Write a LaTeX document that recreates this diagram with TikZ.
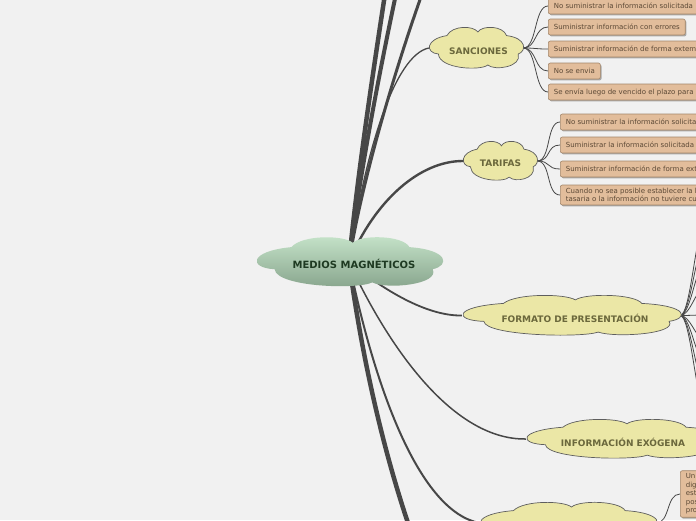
\documentclass[tikz,border=0pt]{standalone}
\usepackage{fontspec}
\setmainfont{DejaVu Sans}
\usetikzlibrary{shadows}
\definecolor{bgc}{HTML}{F1F1F1}
\definecolor{branch}{HTML}{474747}
\definecolor{cloudfill}{HTML}{EBE7A6}
\definecolor{cloudline}{HTML}{5E5E5E}
\definecolor{cloudtext}{HTML}{6B683C}
\definecolor{ctop}{HTML}{C6E4CA}
\definecolor{cbot}{HTML}{86A38B}
\definecolor{ctext}{HTML}{1E3A22}
\definecolor{leaffill}{HTML}{E2BD9B}
\definecolor{leafline}{HTML}{A3866A}
\definecolor{leaftext}{HTML}{5C4936}
\pgfdeclarelayer{background}
\pgfdeclarelayer{clouds}
\pgfsetlayers{background,clouds,main}
% cloud outline round a named node: #1 node, #2 half width, #3 half height, #4 path style
\newcommand\puffcloud[4]{%
  \begin{pgfonlayer}{clouds}
  \begin{scope}[shift={(#1.center)},x=#2pt,y=-#3pt]
  \path[#4] (-0.80,0.30) .. controls (-1.08,0.25) and (-1.08,-0.45) .. (-0.62,-0.62)
     .. controls (-0.50,-1.15) and (-0.05,-1.12) .. (0.04,-0.80)
     .. controls (0.13,-1.15) and (0.58,-1.12) .. (0.65,-0.62)
     .. controls (1.08,-0.50) and (1.08,0.15) .. (0.90,0.30)
     .. controls (0.98,0.95) and (0.40,1.15) .. (0.25,0.85)
     .. controls (0.10,1.15) and (-0.78,1.05) .. (-0.80,0.30) -- cycle;
  \end{scope}
  \end{pgfonlayer}}
% text offset inside a node: #1 right shift, #2 down shift, #3 text
\newcommand\offtext[3]{\hspace*{#1}\raisebox{-#2}[\height][\depth]{#3}}
\begin{document}
\begin{tikzpicture}[x=1pt,y=-1pt,
  topic/.style={rectangle, inner sep=0pt, font=\fontsize{9}{11}\selectfont\bfseries, text=cloudtext},
  yellowcloud/.style={draw=cloudline, line width=0.7pt, fill=cloudfill},
  leaf/.style={draw=leafline, line width=0.6pt, fill=leaffill, rounded corners=2pt,
    text=leaftext, font=\fontsize{7}{8.5}\selectfont, inner xsep=5.5pt, inner ysep=0pt,
    minimum height=16pt, anchor=west, align=left,
    drop shadow={shadow xshift=1.2pt, shadow yshift=-1.4pt, opacity=0.3, fill=black}},
  twig/.style={draw=branch, line width=0.8pt},
  limb/.style={draw=branch}
]
\useasboundingbox (0,0) rectangle (696,520);
\begin{pgfonlayer}{background}
\fill[bgc] (0,0) rectangle (696,520);
\end{pgfonlayer}

\coordinate (hub) at (349,262);

% central node
\node[rectangle, inner sep=0pt, minimum width=186pt, minimum height=48pt,
  font=\fontsize{10}{12}\selectfont\bfseries, text=ctext] (mm) at (349,262)
  {\offtext{10pt}{1.5pt}{MEDIOS MAGNÉTICOS}};
\puffcloud{mm}{93}{24}{top color=ctop, bottom color=cbot, draw=none}

% main topic clouds
\node[topic, minimum width=94pt, minimum height=40pt] (sanc) at (476,48) {\offtext{5pt}{3.5pt}{SANCIONES}};
\puffcloud{sanc}{47}{20}{yellowcloud}
\node[topic, minimum width=74pt, minimum height=38pt] (tar) at (500,161) {\offtext{1pt}{2pt}{TARIFAS}};
\puffcloud{tar}{37}{19}{yellowcloud}
\node[topic, minimum width=218pt, minimum height=39pt] (form) at (571,315.5) {\offtext{8pt}{2.5pt}{FORMATO DE PRESENTACIÓN}};
\puffcloud{form}{109}{19.5}{yellowcloud}
\node[topic, minimum width=194pt, minimum height=38pt] (exo) at (623,439) {\offtext{0pt}{3pt}{INFORMACIÓN EXÓGENA}};
\puffcloud{exo}{97}{19}{yellowcloud}
\node[topic, minimum width=176pt, minimum height=40pt] (bot) at (568,523) {};
\puffcloud{bot}{88}{20}{yellowcloud}

% SANCIONES leaves
\node[leaf] (s1) at (548,6) {No suministrar la información solicitada\hspace{30pt}};
\node[leaf] (s2) at (548,27) {Suministrar información con errores};
\node[leaf] (s3) at (548,49) {Suministrar información de forma extemporánea};
\node[leaf] (s4) at (548,71) {No se envia};
\node[leaf] (s5) at (548,92) {Se envía luego de vencido el plazo para\hspace{30pt}};

% TARIFAS leaves
\node[leaf] (t1) at (560,122) {No suministrar la información solicitada};
\node[leaf] (t2) at (560,145) {Suministrar la información solicitada\hspace{30pt}};
\node[leaf] (t3) at (560,169) {Suministrar información de forma extemporánea};
\node[leaf, inner ysep=3pt] (t4) at (560,195) {Cuando no sea posible establecer la b\hspace{30pt}\\tasaria o la información no tuviere cu};

% bottom-right leaf
\node[leaf, inner ysep=3pt, text width=40pt] (u1) at (680,494) {Un\\dig\\est\\pos\\pro};

% fan endpoints to the right of FORMATO
\foreach \i/\yy in {1/232,2/250,3/268,4/290,5/315,6/338,7/358,8/378,9/398}{
  \coordinate (f\i) at (702,\yy);
}

\begin{pgfonlayer}{background}
% main branches
\draw[limb, line width=4.5pt] (hub) .. controls (358,170) and (375,60) .. (385,-6);
\draw[limb, line width=4pt] (hub) .. controls (360,170) and (382,60) .. (396,-6);
\draw[limb, line width=3pt] (hub) .. controls (362,180) and (395,70) .. (422,-6);
\draw[limb, line width=1.3pt] (hub) .. controls (365,150) and (395,55) .. (sanc.west);
\draw[limb, line width=2.4pt] (hub) .. controls (375,200) and (420,161) .. (tar.west);
\draw[limb, line width=1.8pt] (hub) .. controls (390,295) and (430,316) .. (form.west);
\draw[limb, line width=1.5pt] (hub) .. controls (385,340) and (450,440) .. (exo.west);
\draw[limb, line width=2pt] (hub) .. controls (375,390) and (420,512) .. (bot.west);
\draw[limb, line width=4.5pt] (hub) .. controls (365,380) and (390,470) .. (409,526);
% twigs
\foreach \n in {s1,s2,s3,s4,s5}{
  \draw[twig] (sanc.east) .. controls +(14,0) and +(-14,0) .. (\n.west);
}
\foreach \n in {t1,t2,t3,t4}{
  \draw[twig] (tar.east) .. controls +(14,0) and +(-14,0) .. (\n.west);
}
\foreach \i in {1,...,9}{
  \draw[twig] (form.east) .. controls +(10,0) and +(-6,0) .. (f\i);
}
\draw[twig] (bot.east) .. controls +(14,0) and +(-14,0) .. (u1.west);
\end{pgfonlayer}
\end{tikzpicture}
\end{document}
